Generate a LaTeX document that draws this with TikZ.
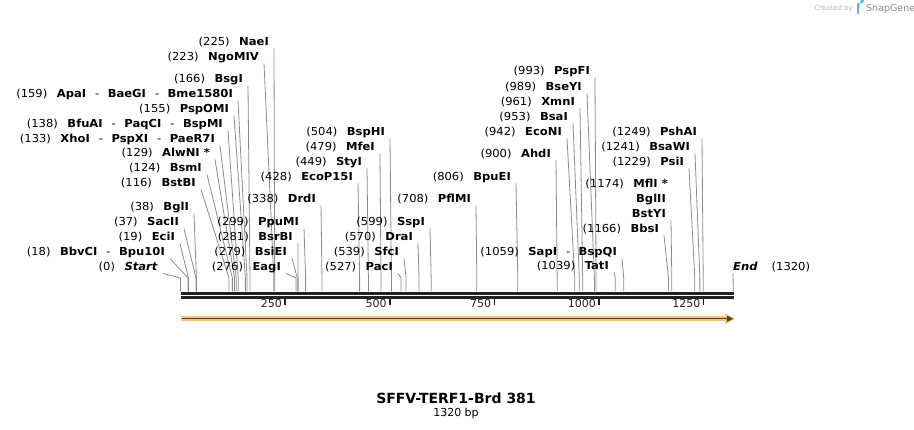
\documentclass[tikz,border=0pt]{standalone}
\usepackage{fontspec}
\setmainfont{DejaVu Sans}
\newfontfamily\labf{DejaVu Sans}[FakeStretch=1.05]
\usetikzlibrary{arrows.meta}
\definecolor{cutgrey}{HTML}{8C8C8C}
\definecolor{bbcol}{HTML}{222222}
\definecolor{featfill}{HTML}{FBC76E}
\definecolor{featline}{HTML}{4F4232}
\definecolor{sgblue}{HTML}{5BB8EC}
\newcommand\gp{\hspace{9.5pt}}
\newcommand\sep{\hspace{9pt}-\hspace{8.5pt}}
\newcommand\nm[1]{\textbf{#1}}
\newcommand\enz[5]{%
  \node[lab,anchor=base east] (#1) at (#2,#3+4) {#5};
  \coordinate (#1-k) at ({180.5+#4*0.4185},278);
  \coordinate (#1-s) at ({180.5+#4*0.4185},291.5);
  \draw[cutln] ([shift={(5,2.5)}]#1.base east) -- (#1-k) -- (#1-s);}
\begin{document}
\begin{tikzpicture}[x=1pt,y=-1pt,
  lab/.style={inner sep=0pt,font=\labf\fontsize{11}{13}\selectfont,text=black},
  ticklab/.style={inner sep=0pt,font=\fontsize{11}{13}\selectfont,text=bbcol},
  cutln/.style={draw=cutgrey,line width=0.8pt},
  bbline/.style={draw=bbcol,line width=2.8pt},
  tickmark/.style={draw=bbcol,line width=1.6pt}]
\useasboundingbox (0,0) rectangle (914,430);
\fill[white] (0,0) rectangle (914,430);
% backbone
\coordinate (bL1) at (180.5,293.4); \coordinate (bR1) at (733.5,293.4);
\coordinate (bL2) at (180.5,297.9); \coordinate (bR2) at (733.5,297.9);
\draw[bbline] (bL1) -- (bR1);
\draw[bbline] (bL2) -- (bR2);
\foreach \t in {250,500,750,1000,1250}{
  \coordinate (tk\t) at ({180.5+\t*0.4185},298);
  \draw[tickmark] (tk\t) -- ++(0,7);
  \node[ticklab,anchor=base east] (tl\t) at ({180.5+\t*0.4185-3},307.5) {\t};
}
% feature arrow
\fill[featfill] (180.5,316.3) rectangle (727,321.3);
\fill[featfill] (725,313.1) -- (735,318.8) -- (725,324.5) -- cycle;
\coordinate (fa) at (181.5,318.8); \coordinate (fb) at (728,318.8);
\draw[featline,line width=1.3pt] (fa) -- (fb);
\fill[featline] (727,315.6) -- (733.3,318.8) -- (727,322) -- cycle;
% left cluster
\enz{nae}{269}{42}{225}{(225)\gp\nm{NaeI}}
\enz{ngo}{259}{57}{223}{(223)\gp\nm{NgoMIV}}
\enz{bsg}{243}{79}{166}{(166)\gp\nm{BsgI}}
\enz{apa}{233}{94}{159}{(159)\gp\nm{ApaI}\sep\nm{BaeGI}\sep\nm{Bme1580I}}
\enz{pspo}{229}{109}{155}{(155)\gp\nm{PspOMI}}
\enz{bfu}{223}{124}{138}{(138)\gp\nm{BfuAI}\sep\nm{PaqCI}\sep\nm{BspMI}}
\enz{xho}{215}{139}{133}{(133)\gp\nm{XhoI}\sep\nm{PspXI}\sep\nm{PaeR7I}}
\enz{alw}{210}{153}{129}{(129)\gp\nm{AlwNI *}}
\enz{bsm}{202}{168}{124}{(124)\gp\nm{BsmI}}
\enz{bstb}{196}{183}{116}{(116)\gp\nm{BstBI}}
\enz{bgli}{189}{207}{38}{(38)\gp\nm{BglI}}
\enz{sac}{179}{222}{37}{(37)\gp\nm{SacII}}
\enz{eci}{175}{237}{19}{(19)\gp\nm{EciI}}
\enz{bbv}{165}{252}{18}{(18)\gp\nm{BbvCI}\sep\nm{Bpu10I}}
\enz{start}{158}{267}{0}{(0)\gp\textbf{\textit{Start}}}
% middle cluster
\enz{eag}{281}{267}{276}{(276)\gp\nm{EagI}}
\enz{bsie}{287}{252}{279}{(279)\gp\nm{BsiEI}}
\enz{bsrb}{293}{237}{281}{(281)\gp\nm{BsrBI}}
\enz{ppu}{299}{222}{299}{(299)\gp\nm{PpuMI}}
\enz{drd}{316}{199}{338}{(338)\gp\nm{DrdI}}
\enz{ecop}{353}{177}{428}{(428)\gp\nm{EcoP15I}}
\enz{sty}{362}{162}{449}{(449)\gp\nm{StyI}}
\enz{mfe}{375}{147}{479}{(479)\gp\nm{MfeI}}
\enz{bsph}{385}{132}{504}{(504)\gp\nm{BspHI}}
\enz{pac}{393}{267}{527}{(527)\gp\nm{PacI}}
\enz{sfc}{399}{252}{539}{(539)\gp\nm{SfcI}}
\enz{dra}{413}{237}{570}{(570)\gp\nm{DraI}}
\enz{ssp}{425}{222}{599}{(599)\gp\nm{SspI}}
\enz{pfl}{471}{199}{708}{(708)\gp\nm{PflMI}}
\enz{bpue}{511}{177}{806}{(806)\gp\nm{BpuEI}}
% right cluster
\enz{ahd}{551}{154}{900}{(900)\gp\nm{AhdI}}
\enz{econ}{562}{132}{942}{(942)\gp\nm{EcoNI}}
\enz{bsa}{568}{117}{953}{(953)\gp\nm{BsaI}}
\enz{xmn}{575}{102}{961}{(961)\gp\nm{XmnI}}
\enz{bsey}{582}{87}{989}{(989)\gp\nm{BseYI}}
\enz{pspf}{590}{71}{993}{(993)\gp\nm{PspFI}}
\enz{sap}{617}{252}{1059}{(1059)\gp\nm{SapI}\sep\nm{BspQI}}
\enz{tat}{609}{266}{1039}{(1039)\gp\nm{TatI}}
\enz{bbs}{659}{229}{1166}{(1166)\gp\nm{BbsI}}
\node[lab,anchor=base east] (mfl) at (668,188) {(1174)\gp\nm{MflI *}};
\node[lab,anchor=base east] (bglii) at (666,203) {\nm{BglII}};
\enz{bsty}{666}{214}{1174}{\nm{BstYI}}
\enz{psi}{684}{162}{1229}{(1229)\gp\nm{PsiI}}
\enz{bsaw}{690}{147}{1241}{(1241)\gp\nm{BsaWI}}
\enz{psha}{697}{132}{1249}{(1249)\gp\nm{PshAI}}
% end
\node[lab,anchor=base west] (endl) at (733,271) {\textbf{\textit{End}}\hspace{14pt}(1320)};
\coordinate (endl-s) at (733.3,291.5);
\draw[cutln] ([yshift=-2pt]endl.base west) -- (endl-s);
% title
\node[inner sep=0pt,anchor=base,font=\bfseries\fontsize{14}{16}\selectfont] (title) at (456,403.5) {SFFV-TERF1-Brd 381};
\node[inner sep=0pt,anchor=base,font=\fontsize{11}{13}\selectfont] (len) at (456,417) {1320 bp};
% snapgene mark
\node[inner sep=0pt,anchor=base east,font=\fontsize{7}{8}\selectfont,text=black!28] (cby) at (853,10.5) {Created by};
\fill[sgblue] (857,3.5) rectangle (859.3,14);
\fill[sgblue] (859.3,3.5) -- (861,3.5) arc[start angle=90,end angle=-90,radius=3] -- (859.3,9.5) -- cycle;
\node[inner sep=0pt,anchor=base west,font=\fontsize{9.5}{11}\selectfont,text=black!45] (sgn) at (866,11.5) {SnapGene};
\end{tikzpicture}
\end{document}
